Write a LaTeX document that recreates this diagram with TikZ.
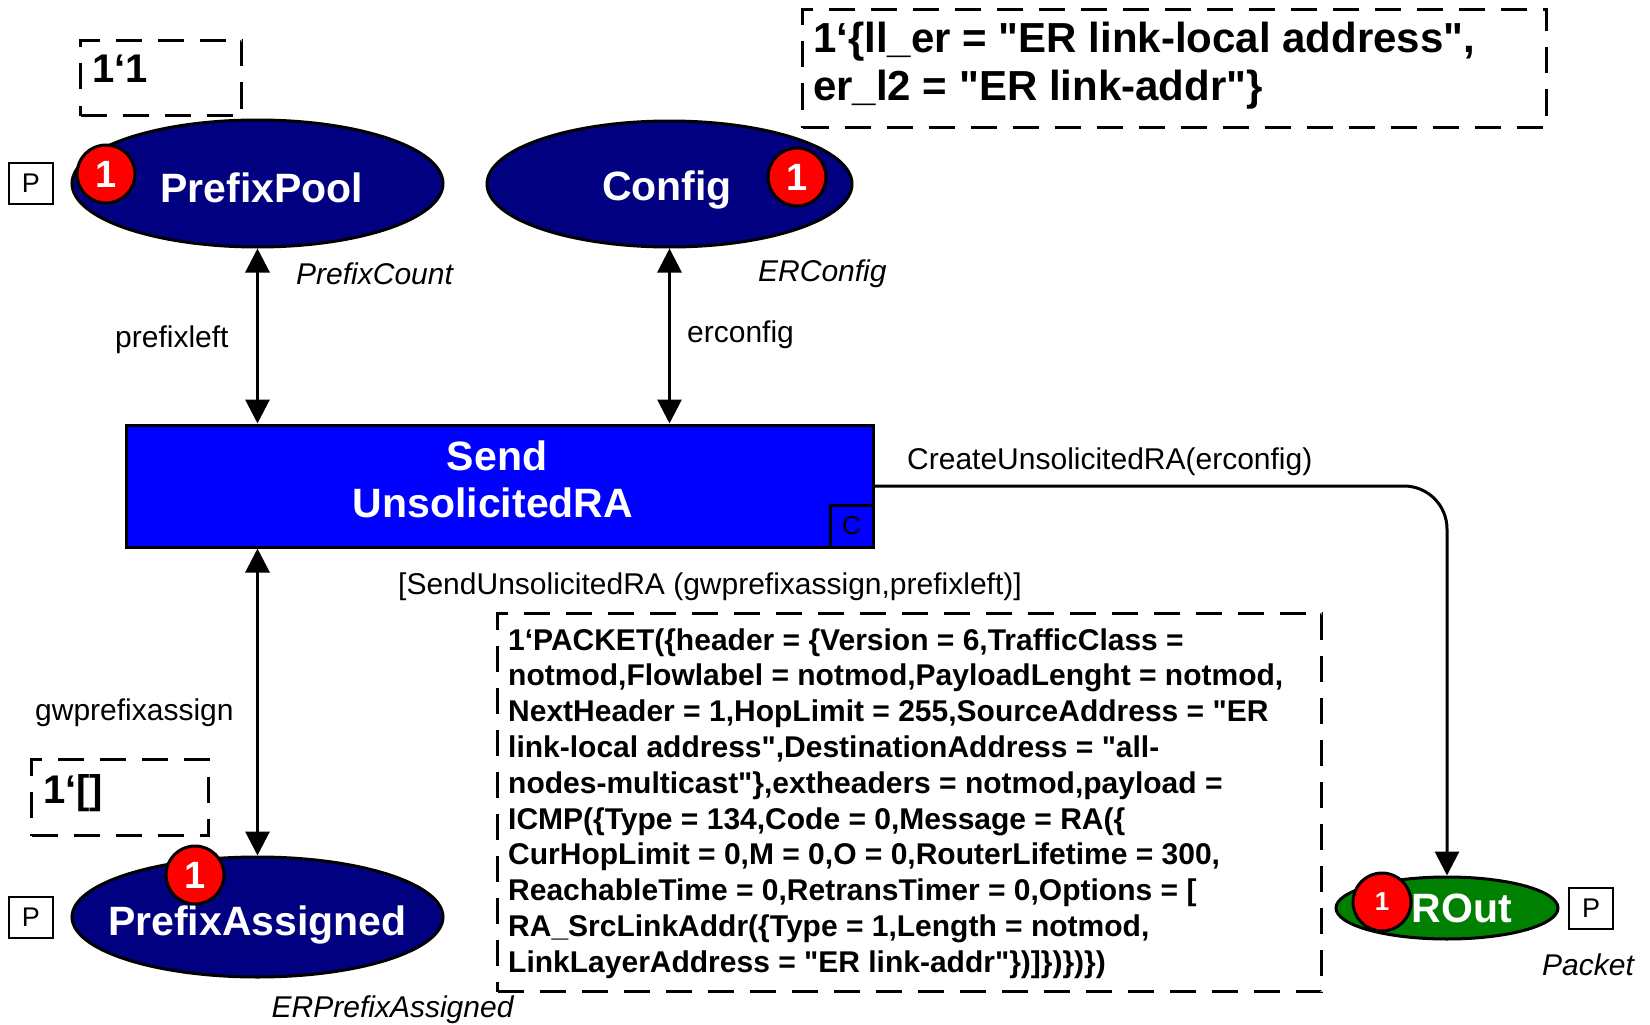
\documentclass[tikz,border=0pt]{standalone}
\usepackage{fontspec}
\setmainfont{Liberation Sans}[Ligatures=TeXOff]
\usetikzlibrary{shapes.geometric,arrows.meta}
\definecolor{navyfill}{RGB}{0,0,128}
\definecolor{transblue}{RGB}{0,0,255}
\definecolor{outgreen}{RGB}{0,128,0}
\newcommand\fsz[1]{\fontsize{#1}{#1}\selectfont}
\tikzset{
  ah/.tip={Triangle[length=24pt,width=24pt]},
  place/.style={ellipse, draw=black, line width=3pt, fill=navyfill, inner sep=0pt},
  placename/.style={text=white, font=\fsz{41}\bfseries, anchor=base, inner sep=0pt},
  transname/.style={text=white, font=\fsz{41}\bfseries, anchor=base, inner sep=0pt},
  token/.style={circle, draw=black, line width=3pt, fill=red, minimum size=58pt, inner sep=0pt, text=white, font=\fsz{38}\bfseries},
  portbox/.style={draw=black, line width=2pt, fill=white, minimum width=44pt, minimum height=41pt, inner sep=0pt, font=\fsz{27}},
  inscbox/.style={draw=black, line width=3pt, dash pattern=on 26pt off 16pt, inner sep=0pt, anchor=north west},
  insctext/.style={font=\fsz{#1}\bfseries, anchor=base west, inner sep=0pt},
  arclabel/.style={font=\fsz{30}, anchor=base west, inner sep=0pt},
  typelabel/.style={font=\fsz{30}\itshape, anchor=base west, inner sep=0pt},
  arc/.style={line width=3pt}
}
\begin{document}
\begin{tikzpicture}[x=1pt,y=-1pt]
\path[use as bounding box, fill=white] (0,0) rectangle (1650,1025);

% places
\node[place, minimum width=371pt, minimum height=127pt] (pp) at (257.5,183.5) {};
\node[place, minimum width=365pt, minimum height=126pt] (cfg) at (669.5,184) {};
\node[place, minimum width=371pt, minimum height=120pt] (pa) at (257.5,917) {};
\node[place, fill=outgreen, minimum width=222pt, minimum height=62pt] (pout) at (1447,908) {};

\node[placename] (ppname) at (262,202) {PrefixPool};
\node[placename] (cfgname) at (667,200) {Config};
\node[placename] (paname) at (257.5,935) {PrefixAssigned};
\node[placename] (poutname) at (1448,922) {PROut};

% transition
\node[draw=black, line width=3pt, fill=transblue, minimum width=747pt, minimum height=122pt, inner sep=0pt] (send) at (499.5,486) {};
\node[transname] (sendname1) at (497,470) {Send};
\node[transname] (sendname2) at (493,517) {UnsolicitedRA};
\node[draw=black, line width=3pt, fill=transblue, minimum width=43pt, minimum height=42pt, inner sep=0pt, anchor=south east, font=\fsz{26}] (cbox) at (send.south east) {C};

% tokens
\node[token] (tpp) at (106,174) {1};
\node[token] (tcfg) at (797,177) {1};
\node[token] (tpa) at (195,875) {1};
\node[token, font=\fsz{26}\bfseries] (tout) at (1382,902) {1};

% port boxes
\node[portbox] (ppP) at (31,183.5) {P};
\node[portbox] (paP) at (31,917) {P};
\node[portbox] (poutP) at (1591,908) {P};

% type labels
\node[typelabel] (ppty) at (296,284) {PrefixCount};
\node[typelabel] (cfgty) at (758,281) {ERConfig};
\node[typelabel] (paty) at (271.5,1017.5) {ERPrefixAssigned};
\node[typelabel] (outty) at (1542,975.5) {Packet};

% initial markings
\node[inscbox, minimum width=161pt, minimum height=75pt] (mpp) at (79,39) {};
\node[insctext=40] (mpptext) at (92,82) {1‘1};
\node[inscbox, minimum width=177pt, minimum height=76pt] (mpa) at (30,758) {};
\node[insctext=40] (mpatext) at (43,803) {1‘[]};
\node[inscbox, minimum width=744pt, minimum height=118pt] (mcfg) at (801,8) {};
\node[insctext=42] (mcfg1) at (813,52.6) {1‘\{ll\_er = "ER link-local address",};
\node[insctext=42] (mcfg2) at (813,100) {er\_l2 = "ER link-addr"\}};

% output inscription
\node[inscbox, minimum width=824pt, minimum height=378pt] (mout) at (496,612) {};
\node[insctext=30] (l1) at (508,650) {1‘PACKET(\{header = \{Version = 6,TrafficClass =};
\node[insctext=30] (l2) at (508,685.8) {notmod,Flowlabel = notmod,PayloadLenght = notmod,};
\node[insctext=30] (l3) at (508,721.6) {NextHeader = 1,HopLimit = 255,SourceAddress = "ER};
\node[insctext=30] (l4) at (508,757.4) {link-local address",DestinationAddress = "all-};
\node[insctext=30] (l5) at (508,793.2) {nodes-multicast"\},extheaders = notmod,payload =};
\node[insctext=30] (l6) at (508,829) {ICMP(\{Type = 134,Code = 0,Message = RA(\{};
\node[insctext=30] (l7) at (508,864.8) {CurHopLimit = 0,M = 0,O = 0,RouterLifetime = 300,};
\node[insctext=30] (l8) at (508,900.6) {ReachableTime = 0,RetransTimer = 0,Options = [};
\node[insctext=30] (l9) at (508,936.4) {RA\_SrcLinkAddr(\{Type = 1,Length = notmod,};
\node[insctext=30] (l10) at (508,972.2) {LinkLayerAddress = "ER link-addr"\})]\})\})\})};

% arcs
\draw[arc, ah-ah] (pp.south) -- (pp.south |- send.north);
\draw[arc, ah-ah] (cfg.south) -- (cfg.south |- send.north);
\draw[arc, ah-ah] (pa.north |- send.south) -- (pa.north);
\draw[arc, -ah, rounded corners=43pt] (send.east) -- (send.east -| pout.north) -- (pout.north);

% arc labels
\node[arclabel] (lab1) at (115,347) {prefixleft};
\node[arclabel] (lab2) at (687,342) {erconfig};
\node[arclabel] (lab3) at (35,720) {gwprefixassign};
\node[arclabel] (lab4) at (907,469) {CreateUnsolicitedRA(erconfig)};
\node[arclabel] (guard) at (398,594.5) {[SendUnsolicitedRA (gwprefixassign,prefixleft)]};
\end{tikzpicture}
\end{document}
